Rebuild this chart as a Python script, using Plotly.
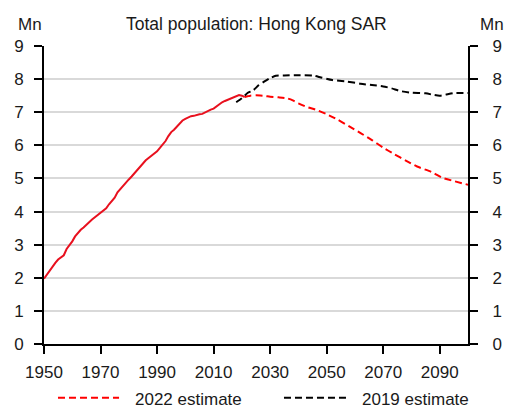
import plotly.graph_objects as go

# ---- data (millions) ----
hist_years = list(range(1950, 2022))
hist_pop = [1.97, 2.10, 2.20, 2.34, 2.45, 2.55, 2.61, 2.68, 2.87, 2.98,
            3.10, 3.25, 3.36, 3.45, 3.52, 3.61, 3.69, 3.76, 3.83, 3.90,
            3.95, 4.01, 4.10, 4.22, 4.32, 4.42, 4.58, 4.68, 4.80, 4.90,
            4.97, 5.06, 5.16, 5.26, 5.35, 5.44, 5.55, 5.62, 5.68, 5.74,
            5.82, 5.92, 6.02, 6.13, 6.28, 6.40, 6.47, 6.56, 6.67, 6.75,
            6.80, 6.84, 6.88, 6.89, 6.92, 6.94, 6.95, 7.00, 7.05, 7.08,
            7.11, 7.18, 7.25, 7.30, 7.34, 7.38, 7.42, 7.45, 7.49, 7.52,
            7.50, 7.46]

proj2022_years = [2021, 2022, 2023, 2025, 2028, 2030, 2033, 2036, 2038, 2040,
                  2043, 2046, 2050, 2054, 2058, 2062, 2066, 2070, 2074, 2078,
                  2082, 2087, 2091, 2095, 2100]
proj2022_pop = [7.46, 7.48, 7.50, 7.51, 7.49, 7.47, 7.45, 7.42, 7.36, 7.27,
                7.16, 7.08, 6.94, 6.77, 6.57, 6.37, 6.16, 5.93, 5.73, 5.54,
                5.36, 5.20, 5.02, 4.92, 4.81]

est2019_years = [2018, 2020, 2022, 2024, 2026, 2028, 2030, 2032, 2035, 2040,
                 2045, 2048, 2052, 2057, 2062, 2066, 2070, 2073, 2076, 2080,
                 2085, 2088, 2090, 2092, 2095, 2100]
est2019_pop = [7.30, 7.42, 7.58, 7.66, 7.82, 7.93, 8.03, 8.10, 8.11, 8.12,
               8.11, 8.05, 7.97, 7.93, 7.86, 7.82, 7.78, 7.72, 7.64, 7.59,
               7.57, 7.52, 7.50, 7.53, 7.58, 7.58]

x_ticks = [1950, 1970, 1990, 2010, 2030, 2050, 2070, 2090]
y_ticks = list(range(0, 10))

title_text = "Total population: Hong Kong SAR"
unit_text = "Mn"
legend_labels = ["2022 estimate", "2019 estimate"]

RED = "#ff0000"
HRED = "#e8101e"
BLACK = "#000000"
FONT = "Liberation Sans, Arial, sans-serif"
DASH = "7px,4px"

fig = go.Figure()
fig.add_trace(go.Scatter(x=hist_years, y=hist_pop, mode="lines",
                         line=dict(color=HRED, width=2), showlegend=False,
                         hoverinfo="skip"))
fig.add_trace(go.Scatter(x=est2019_years, y=est2019_pop, mode="lines",
                         line=dict(color=BLACK, width=2, dash=DASH, shape="spline", smoothing=0.6),
                         showlegend=False, yaxis="y2"))
fig.add_trace(go.Scatter(x=proj2022_years, y=proj2022_pop, mode="lines",
                         line=dict(color=RED, width=2, dash=DASH, shape="spline", smoothing=0.6),
                         showlegend=False))

axis_font = dict(family=FONT, size=17, color="#1a1a1a")

# page body has an 8px default margin; figure is sized to fit the 515x410 window
fig.update_layout(
    width=507, height=402,
    margin=dict(l=36, r=47, t=38, b=66, autoexpand=False),
    paper_bgcolor="white", plot_bgcolor="white",
    font=axis_font,
    xaxis=dict(range=[1950, 2100], tickvals=x_ticks, ticks="outside", ticklen=8,
               tickwidth=1.5, tickcolor="black", showline=True, linecolor="black",
               linewidth=2, showgrid=False, zeroline=False, tickfont=axis_font,
               ticklabelstandoff=4, automargin=False),
    yaxis=dict(range=[0, 9], tickvals=y_ticks, ticks="outside", ticklen=8,
               tickwidth=1.5, tickcolor="black", showline=True, linecolor="black",
               linewidth=2, showgrid=True, gridcolor="#d9d9d9", gridwidth=2,
               zeroline=False, tickfont=axis_font, ticklabelstandoff=7,
               automargin=False),
    yaxis2=dict(range=[0, 9], tickvals=y_ticks, ticks="outside", ticklen=8,
                tickwidth=1.5, tickcolor="black", showline=True, linecolor="black",
                linewidth=2, showgrid=False, zeroline=False, overlaying="y",
                side="right", anchor="x", tickfont=axis_font, ticklabelstandoff=11,
                automargin=False),
    showlegend=False,
)

title_font = dict(family=FONT, size=17.5, color="#1a1a1a")
fig.add_annotation(text=title_text, xref="paper", yref="paper", x=0.5, y=1.0,
                   yshift=22, xanchor="center", yanchor="middle", showarrow=False,
                   font=title_font)
fig.add_annotation(text=unit_text, xref="paper", yref="paper", x=-0.032, y=1.0,
                   yshift=22, xanchor="center", yanchor="middle", showarrow=False,
                   font=axis_font)
fig.add_annotation(text=unit_text, xref="paper", yref="paper", x=1.057, y=1.0,
                   yshift=22, xanchor="center", yanchor="middle", showarrow=False,
                   font=axis_font)

# manual legend
leg_y = -0.180
fig.add_shape(type="line", xref="paper", yref="paper", x0=0.033, x1=0.177,
              y0=leg_y, y1=leg_y, line=dict(color=RED, width=2, dash=DASH))
fig.add_annotation(text=legend_labels[0], xref="paper", yref="paper", x=0.210,
                   y=leg_y, yshift=-2, xanchor="left", yanchor="middle", showarrow=False,
                   font=axis_font)
fig.add_shape(type="line", xref="paper", yref="paper", x0=0.566, x1=0.715,
              y0=leg_y, y1=leg_y, line=dict(color=BLACK, width=2, dash=DASH))
fig.add_annotation(text=legend_labels[1], xref="paper", yref="paper", x=0.745,
                   y=leg_y, yshift=-2, xanchor="left", yanchor="middle", showarrow=False,
                   font=axis_font)

fig.write_html("out.html")
